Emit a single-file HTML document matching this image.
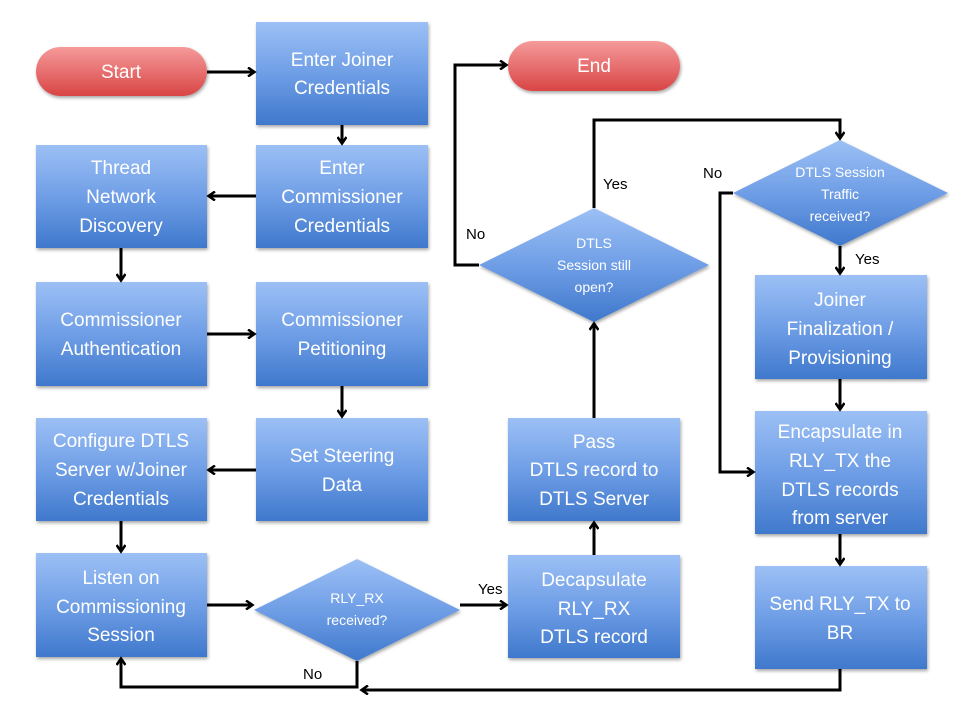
<!DOCTYPE html><html><head><style>body{margin:0;background:#fff}svg{display:block}</style></head><body>
<svg width="954" height="716" viewBox="0 0 954 716" xmlns="http://www.w3.org/2000/svg" font-family="Liberation Sans, sans-serif">
<defs>
<linearGradient id="b" x1="0" y1="0" x2="0" y2="1"><stop offset="0" stop-color="#9cc0f5"/><stop offset="0.5" stop-color="#6f9ee6"/><stop offset="1" stop-color="#3f78cc"/></linearGradient>
<linearGradient id="r" x1="0" y1="0" x2="0" y2="1"><stop offset="0" stop-color="#f59a9a"/><stop offset="1" stop-color="#d94545"/></linearGradient>
<filter id="s" x="-10%" y="-10%" width="130%" height="130%"><feDropShadow dx="1" dy="2" stdDeviation="1.5" flood-opacity="0.35"/></filter>
<marker id="a" markerWidth="10" markerHeight="10" refX="7" refY="5" orient="auto" markerUnits="userSpaceOnUse"><path d="M1,0.5 L7.5,5 L1,9.5" fill="none" stroke="#000" stroke-width="2.5"/></marker>
</defs>
<g filter="url(#s)">
<rect x="36" y="47" width="171" height="49" rx="24.5" fill="url(#r)"/>
<rect x="508" y="41" width="172" height="50" rx="25" fill="url(#r)"/>
<rect x="256" y="22" width="172" height="103" fill="url(#b)"/>
<rect x="256" y="145" width="172" height="103" fill="url(#b)"/>
<rect x="36" y="145" width="171" height="103" fill="url(#b)"/>
<rect x="36" y="282" width="171" height="104" fill="url(#b)"/>
<rect x="256" y="282" width="172" height="104" fill="url(#b)"/>
<rect x="36" y="418" width="171" height="103" fill="url(#b)"/>
<rect x="256" y="418" width="172" height="103" fill="url(#b)"/>
<rect x="36" y="553" width="171" height="104" fill="url(#b)"/>
<rect x="508" y="555" width="172" height="103" fill="url(#b)"/>
<rect x="508" y="418" width="172" height="103" fill="url(#b)"/>
<rect x="755" y="275" width="172" height="104" fill="url(#b)"/>
<rect x="755" y="411" width="172" height="123" fill="url(#b)"/>
<rect x="755" y="566" width="172" height="103" fill="url(#b)"/>
<polygon points="254,610 357,559 460,610 357,661" fill="url(#b)"/>
<polygon points="479,265 594,208 709,265 594,322" fill="url(#b)"/>
<polygon points="733,193 840,140 948,193 840,246" fill="url(#b)"/>
</g>
<g fill="none" stroke="#000" stroke-width="3">
<path d="M207,72 H254" marker-end="url(#a)"/>
<path d="M342,125 V143" marker-end="url(#a)"/>
<path d="M256,196 H209" marker-end="url(#a)"/>
<path d="M121,248 V280" marker-end="url(#a)"/>
<path d="M207,334 H254" marker-end="url(#a)"/>
<path d="M342,386 V416" marker-end="url(#a)"/>
<path d="M256,470 H209" marker-end="url(#a)"/>
<path d="M121,521 V551" marker-end="url(#a)"/>
<path d="M207,605 H252" marker-end="url(#a)"/>
<path d="M460,605 H506" marker-end="url(#a)"/>
<path d="M357,661 V687 H121 V659" marker-end="url(#a)"/>
<path d="M594,555 V523" marker-end="url(#a)"/>
<path d="M594,418 V324" marker-end="url(#a)"/>
<path d="M594,208 V120 H840 V138" marker-end="url(#a)"/>
<path d="M479,265 H455 V65 H506" marker-end="url(#a)"/>
<path d="M840,246 V273" marker-end="url(#a)"/>
<path d="M733,193 H720 V472 H753" marker-end="url(#a)"/>
<path d="M840,379 V409" marker-end="url(#a)"/>
<path d="M840,534 V564" marker-end="url(#a)"/>
<path d="M840,669 V690 H362" marker-end="url(#a)"/>
</g>
<g fill="#000" font-size="15">
<text x="478" y="594">Yes</text>
<text x="303" y="679">No</text>
<text x="603" y="189">Yes</text>
<text x="466" y="239">No</text>
<text x="703" y="178">No</text>
<text x="855" y="264">Yes</text>
</g>
<g fill="#fff" font-size="19" text-anchor="middle">
<text x="121" y="78">Start</text>
<text x="594" y="72">End</text>
<text x="342" y="66">Enter Joiner</text><text x="342" y="94">Credentials</text>
<text x="342" y="174">Enter</text><text x="342" y="203">Commissioner</text><text x="342" y="232">Credentials</text>
<text x="121" y="174">Thread</text><text x="121" y="203">Network</text><text x="121" y="232">Discovery</text>
<text x="121" y="326">Commissioner</text><text x="121" y="355">Authentication</text>
<text x="342" y="326">Commissioner</text><text x="342" y="355">Petitioning</text>
<text x="121" y="447">Configure DTLS</text><text x="121" y="476">Server w/Joiner</text><text x="121" y="505">Credentials</text>
<text x="342" y="462">Set Steering</text><text x="342" y="491">Data</text>
<text x="121" y="584">Listen on</text><text x="121" y="613">Commissioning</text><text x="121" y="641">Session</text>
<text x="594" y="586">Decapsulate</text><text x="594" y="615">RLY_RX</text><text x="594" y="643">DTLS record</text>
<text x="594" y="448">Pass</text><text x="594" y="476">DTLS record to</text><text x="594" y="505">DTLS Server</text>
<text x="840" y="306">Joiner</text><text x="840" y="335">Finalization /</text><text x="840" y="364">Provisioning</text>
<text x="840" y="438">Encapsulate in</text><text x="840" y="467">RLY_TX the</text><text x="840" y="496">DTLS records</text><text x="840" y="524">from server</text>
<text x="840" y="610">Send RLY_TX to</text><text x="840" y="639">BR</text>
</g>
<g fill="#fff" font-size="14" text-anchor="middle">
<text x="357" y="603">RLY_RX</text><text x="357" y="625">received?</text>
<text x="594" y="248">DTLS</text><text x="594" y="270">Session still</text><text x="594" y="292">open?</text>
<text x="840" y="177">DTLS Session</text><text x="840" y="199">Traffic</text><text x="840" y="221">received?</text>
</g>
</svg>
</body></html>
